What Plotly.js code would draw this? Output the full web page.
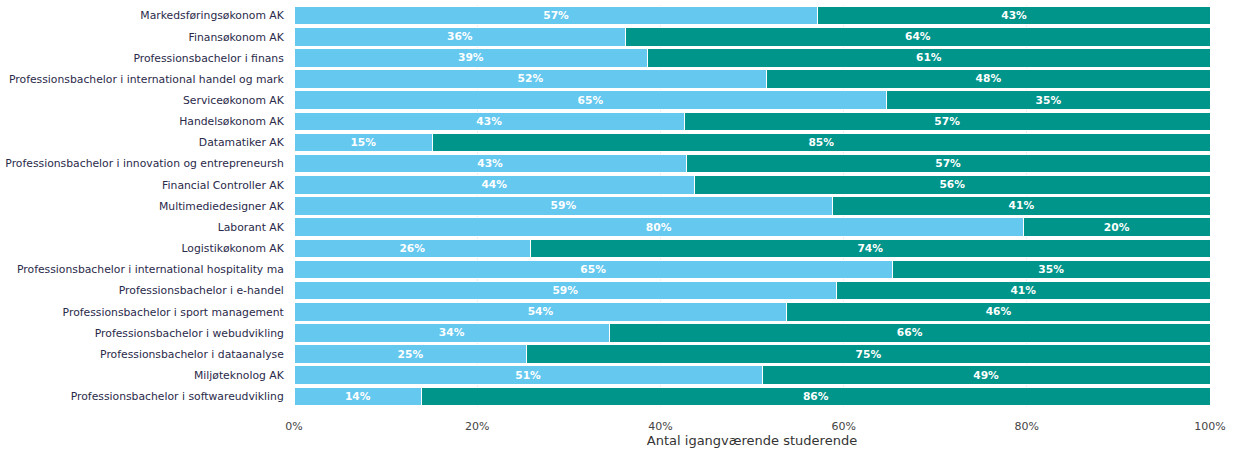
<!DOCTYPE html>
<html><head><meta charset="utf-8">
<script src="https://cdn.plot.ly/plotly-3.0.1.min.js"></script>
<style>body{margin:0;background:#fff}#chart{width:1236px;height:453px}</style>
</head><body><div id="chart"></div>
<script>
const categories = [
  "Markedsføringsøkonom AK",
  "Finansøkonom AK",
  "Professionsbachelor i finans",
  "Professionsbachelor i international handel og mark",
  "Serviceøkonom AK",
  "Handelsøkonom AK",
  "Datamatiker AK",
  "Professionsbachelor i innovation og entrepreneursh",
  "Financial Controller AK",
  "Multimediedesigner AK",
  "Laborant AK",
  "Logistikøkonom AK",
  "Professionsbachelor i international hospitality ma",
  "Professionsbachelor i e-handel",
  "Professionsbachelor i sport management",
  "Professionsbachelor i webudvikling",
  "Professionsbachelor i dataanalyse",
  "Miljøteknolog AK",
  "Professionsbachelor i softwareudvikling"
];
const seriesA = [0.572,0.362,0.386,0.516,0.647,0.426,0.151,0.428,0.437,0.588,0.796,0.258,0.653,0.592,0.538,0.344,0.254,0.511,0.139];
const seriesB = [0.428,0.638,0.614,0.484,0.353,0.574,0.849,0.572,0.563,0.412,0.204,0.742,0.347,0.408,0.462,0.656,0.746,0.489,0.861];
const tickVals = [0,0.2,0.4,0.6,0.8,1];
const tickText = ["0%","20%","40%","60%","80%","100%"];

const font = "Verdana, 'DejaVu Sans', sans-serif";
const common = {
  type: "bar", orientation: "h", y: categories,
  texttemplate: "%{x:.0%}", textposition: "inside", insidetextanchor: "middle",
  textfont: {color: "#ffffff", size: 11, family: font, weight: "bold"},
  hoverinfo: "none", showlegend: false
};
const data = [
  Object.assign({}, common, {x: seriesA, name: "A", marker: {color: "#65C8EF", line: {color: "#ffffff", width: 1}}}),
  Object.assign({}, common, {x: seriesB, name: "B", marker: {color: "#00958A", line: {color: "#ffffff", width: 1}}})
];
const layout = {
  barmode: "stack", bargap: 0.12,
  width: 1236, height: 453,
  margin: {l: 294, r: 26, t: 5, b: 46},
  paper_bgcolor: "#fff", plot_bgcolor: "#fff",
  font: {family: font, size: 11, color: "#444"},
  xaxis: {range: [0, 1], tickvals: tickVals, ticktext: tickText,
    showgrid: true, gridcolor: "#eeeeee", zeroline: false,
    ticks: "outside", ticklen: 9, tickcolor: "rgba(0,0,0,0)",
    tickfont: {size: 11, color: "#444"},
    title: {text: "Antal igangværende studerende", font: {size: 13, color: "#333"}, standoff: 2}},
  yaxis: {autorange: "reversed", ticks: "outside", ticklen: 7, tickcolor: "rgba(0,0,0,0)",
    tickfont: {size: 10.8, color: "#2a2a4a"}, automargin: false}
};
Plotly.newPlot("chart", data, layout, {displayModeBar: false, staticPlot: true});
</script></body></html>
